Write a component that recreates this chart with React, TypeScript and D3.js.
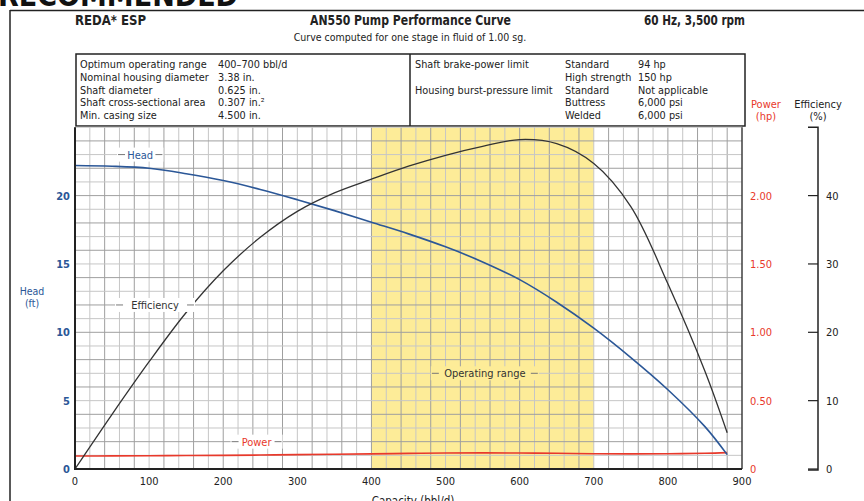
import React from "react";
import * as d3 from "d3";

// Pump performance data (per stage, fluid sg 1.00)
const capacity = [0, 50, 100, 150, 200, 250, 300, 350, 400, 450, 500, 550, 600, 650, 700, 750, 800, 850, 880];
const headFt = [22.2, 22.15, 22.0, 21.6, 21.1, 20.45, 19.7, 18.9, 18.05, 17.2, 16.25, 15.15, 13.85, 12.2, 10.3, 8.15, 5.8, 3.1, 1.05];
const efficiencyPct = [0, 8.0, 15.7, 22.9, 29.0, 33.9, 37.7, 40.4, 42.4, 44.3, 45.9, 47.2, 48.2, 47.6, 44.7, 38.4, 27.1, 14.3, 5.3];
const powerHp = [0.095, 0.096, 0.097, 0.099, 0.1, 0.102, 0.105, 0.108, 0.111, 0.114, 0.117, 0.118, 0.117, 0.115, 0.112, 0.111, 0.112, 0.115, 0.12];

const operatingRange = [400, 700];

const capacityTicks = [0, 100, 200, 300, 400, 500, 600, 700, 800, 900];
const headTicks = [0, 5, 10, 15, 20];
const powerTicks = [0, 0.5, 1.0, 1.5, 2.0];
const efficiencyTicks = [0, 10, 20, 30, 40];

// Spec table rows
const specLabels = ["Optimum operating range", "Nominal housing diameter", "Shaft diameter", "Shaft cross-sectional area", "Min. casing size"];
const specValues = ["400\u2013700 bbl/d", "3.38 in.", "0.625 in.", "0.307 in.\u00b2", "4.500 in."];
const limitLabels = ["Shaft brake-power limit", "", "Housing burst-pressure limit", "", ""];
const limitTypes = ["Standard", "High strength", "Standard", "Buttress", "Welded"];
const limitValues = ["94 hp", "150 hp", "Not applicable", "6,000 psi", "6,000 psi"];

// Curve annotations: [text, capacity, head-scale position, colour]
const curveLabels: [string, number, number, string][] = [
  ["Head", 88, 23, "#2b5797"],
  ["Efficiency", 108, 12, "#333"],
  ["Power", 245, 2, "#e8392b"],
  ["Operating range", 553, 7, "#333"],
];

const FONT = "'Liberation Sans Narrow','Arial Narrow','DejaVu Sans Condensed',Roboto,sans-serif";
const BLUE = "#2b5797";
const RED = "#e8392b";
const DARK = "#222";

export default function App() {
  const W = 864;
  const H = 501;
  const x = d3.scaleLinear().domain([0, 900]).range([75, 742]);
  const yHead = d3.scaleLinear().domain([0, 25]).range([469, 127.25]);
  const yPower = d3.scaleLinear().domain([0, 2.5]).range([469, 127.25]);
  const yEff = d3.scaleLinear().domain([0, 50]).range([469, 127.25]);

  const curve = d3.curveCatmullRom.alpha(0.5);
  const headLine = d3.line<number>().x((_, i) => x(capacity[i])).y((d) => yHead(d)).curve(curve);
  const effLine = d3.line<number>().x((_, i) => x(capacity[i])).y((d) => yEff(d)).curve(curve);
  const powLine = d3.line<number>().x((_, i) => x(capacity[i])).y((d) => yPower(d)).curve(curve);

  const vGrid = d3.range(0, 901, 20);
  const hGrid = d3.range(0, 26, 1);
  const rowY = [68, 80.75, 93.5, 106.25, 119];

  const top = yHead(25);
  const bottom = yHead(0);

  return (
    <svg width={W} height={H} style={{ position: "absolute", left: 0, top: 0, background: "#fff" }} fontFamily={FONT}>
      <rect x={0} y={0} width={W} height={H} fill="#fff" />
      {/* cropped banner */}
      <text x={-2} y={6} fontSize={30} fontWeight="bold" fill="#111">RECOMMENDED</text>
      {/* outer frame */}
      <line x1={10} y1={10.5} x2={W} y2={10.5} stroke={DARK} strokeWidth={1.5} />
      <line x1={10} y1={10} x2={10} y2={H} stroke={DARK} strokeWidth={1.5} />

      {/* header */}
      <text x={75} y={25} fontSize={14} fontWeight="bold" fill={DARK} textLength={71} lengthAdjust="spacingAndGlyphs">REDA* ESP</text>
      <text x={310} y={25} fontSize={14} fontWeight="bold" fill={DARK} textLength={201} lengthAdjust="spacingAndGlyphs">AN550 Pump Performance Curve</text>
      <text x={410} y={41} fontSize={10.5} fill={DARK} textAnchor="middle">Curve computed for one stage in fluid of 1.00 sg.</text>
      <text x={644} y={25} fontSize={14} fontWeight="bold" fill={DARK} textLength={101} lengthAdjust="spacingAndGlyphs">60 Hz, 3,500 rpm</text>

      {/* spec table */}
      <rect x={76} y={54} width={669} height={72} fill="none" stroke={DARK} strokeWidth={1.5} />
      <line x1={410} y1={54} x2={410} y2={126} stroke={DARK} strokeWidth={1.5} />
      <g fontSize={10.8} fill={DARK}>
        {specLabels.map((s, i) => (
          <text key={"sl" + i} x={80} y={rowY[i]}>{s}</text>
        ))}
        {specValues.map((s, i) => (
          <text key={"sv" + i} x={218} y={rowY[i]}>{s}</text>
        ))}
        {limitLabels.map((s, i) => (
          <text key={"ll" + i} x={415} y={rowY[i]}>{s}</text>
        ))}
        {limitTypes.map((s, i) => (
          <text key={"lt" + i} x={565} y={rowY[i]}>{s}</text>
        ))}
        {limitValues.map((s, i) => (
          <text key={"lv" + i} x={638} y={rowY[i]}>{s}</text>
        ))}
      </g>

      {/* operating range band */}
      <rect x={x(operatingRange[0])} y={top} width={x(operatingRange[1]) - x(operatingRange[0])} height={bottom - top} fill="#fdec98" />

      {/* grid */}
      <g>
        {vGrid.map((v, i) => (
          <line key={"v" + v} x1={x(v)} x2={x(v)} y1={top} y2={bottom} stroke={i % 2 === 0 ? "#9f9f9f" : "#c6c6c6"} strokeWidth={1} />
        ))}
        {hGrid.map((h, i) => (
          <line key={"h" + h} x1={x(0)} x2={x(900)} y1={yHead(h)} y2={yHead(h)} stroke={i % 2 === 0 ? "#9f9f9f" : "#c6c6c6"} strokeWidth={1} />
        ))}
      </g>

      {/* curves */}
      <path d={powLine(powerHp) || ""} fill="none" stroke={RED} strokeWidth={1.6} />
      <path d={headLine(headFt) || ""} fill="none" stroke={BLUE} strokeWidth={1.6} />
      <path d={effLine(efficiencyPct) || ""} fill="none" stroke="#333" strokeWidth={1.3} />

      {/* curve labels */}
      {curveLabels.map(([t, c, h, col]) => {
        const cx = x(c);
        const cy = yHead(h);
        const w = t.length * 5.6;
        const bg = c >= operatingRange[0] && c <= operatingRange[1] ? "#fdec98" : "#fff";
        return (
          <g key={t}>
            <rect x={cx - w / 2 - 12} y={cy - 7} width={w + 24} height={14} fill={bg} />
            <line x1={cx - w / 2 - 11} x2={cx - w / 2 - 4} y1={cy} y2={cy} stroke="#777" strokeWidth={1} />
            <line x1={cx + w / 2 + 4} x2={cx + w / 2 + 11} y1={cy} y2={cy} stroke="#777" strokeWidth={1} />
            <text x={cx} y={cy + 4} fontSize={11} fill={col} textAnchor="middle">{t}</text>
          </g>
        );
      })}

      {/* axes frame */}
      <line x1={x(0)} x2={x(0)} y1={top} y2={bottom + 1} stroke={DARK} strokeWidth={2} />
      <line x1={x(0)} x2={x(900)} y1={bottom} y2={bottom} stroke={DARK} strokeWidth={2} />
      <line x1={x(900)} x2={x(900)} y1={top} y2={bottom} stroke={DARK} strokeWidth={1.2} />

      {/* capacity axis */}
      {capacityTicks.map((t) => (
        <text key={"xt" + t} x={x(t)} y={485} fontSize={11} fill={DARK} textAnchor="middle">{t}</text>
      ))}
      <text x={413} y={505} fontSize={11.5} fill={DARK} textAnchor="middle">Capacity (bbl/d)</text>

      {/* head axis */}
      {headTicks.map((t) => (
        <text key={"ht" + t} x={70} y={yHead(t) + 4} fontSize={11} fontWeight="bold" fill={BLUE} textAnchor="end">{t}</text>
      ))}
      <text x={32} y={295} fontSize={10.5} fill={BLUE} textAnchor="middle">Head</text>
      <text x={32} y={307} fontSize={10.5} fill={BLUE} textAnchor="middle">(ft)</text>

      {/* power axis */}
      {powerTicks.map((t) => (
        <text key={"pt" + t} x={750} y={yPower(t) + 4} fontSize={11} fill={RED}>{t === 0 ? "0" : d3.format(".2f")(t)}</text>
      ))}
      <text x={766} y={108} fontSize={11} fill={RED} textAnchor="middle">Power</text>
      <text x={766} y={120} fontSize={11} fill={RED} textAnchor="middle">(hp)</text>

      {/* efficiency axis */}
      <path d={`M808,${top}H818V${bottom + 1}H808`} fill="none" stroke={DARK} strokeWidth={1.5} />
      {efficiencyTicks.map((t) => (
        <g key={"et" + t}>
          <line x1={808} x2={818} y1={yEff(t)} y2={yEff(t)} stroke={DARK} strokeWidth={1.2} />
          <text x={826} y={yEff(t) + 4} fontSize={11} fill={DARK}>{t}</text>
        </g>
      ))}
      <text x={818} y={108} fontSize={11} fill={DARK} textAnchor="middle">Efficiency</text>
      <text x={818} y={120} fontSize={11} fill={DARK} textAnchor="middle">(%)</text>
    </svg>
  );
}
